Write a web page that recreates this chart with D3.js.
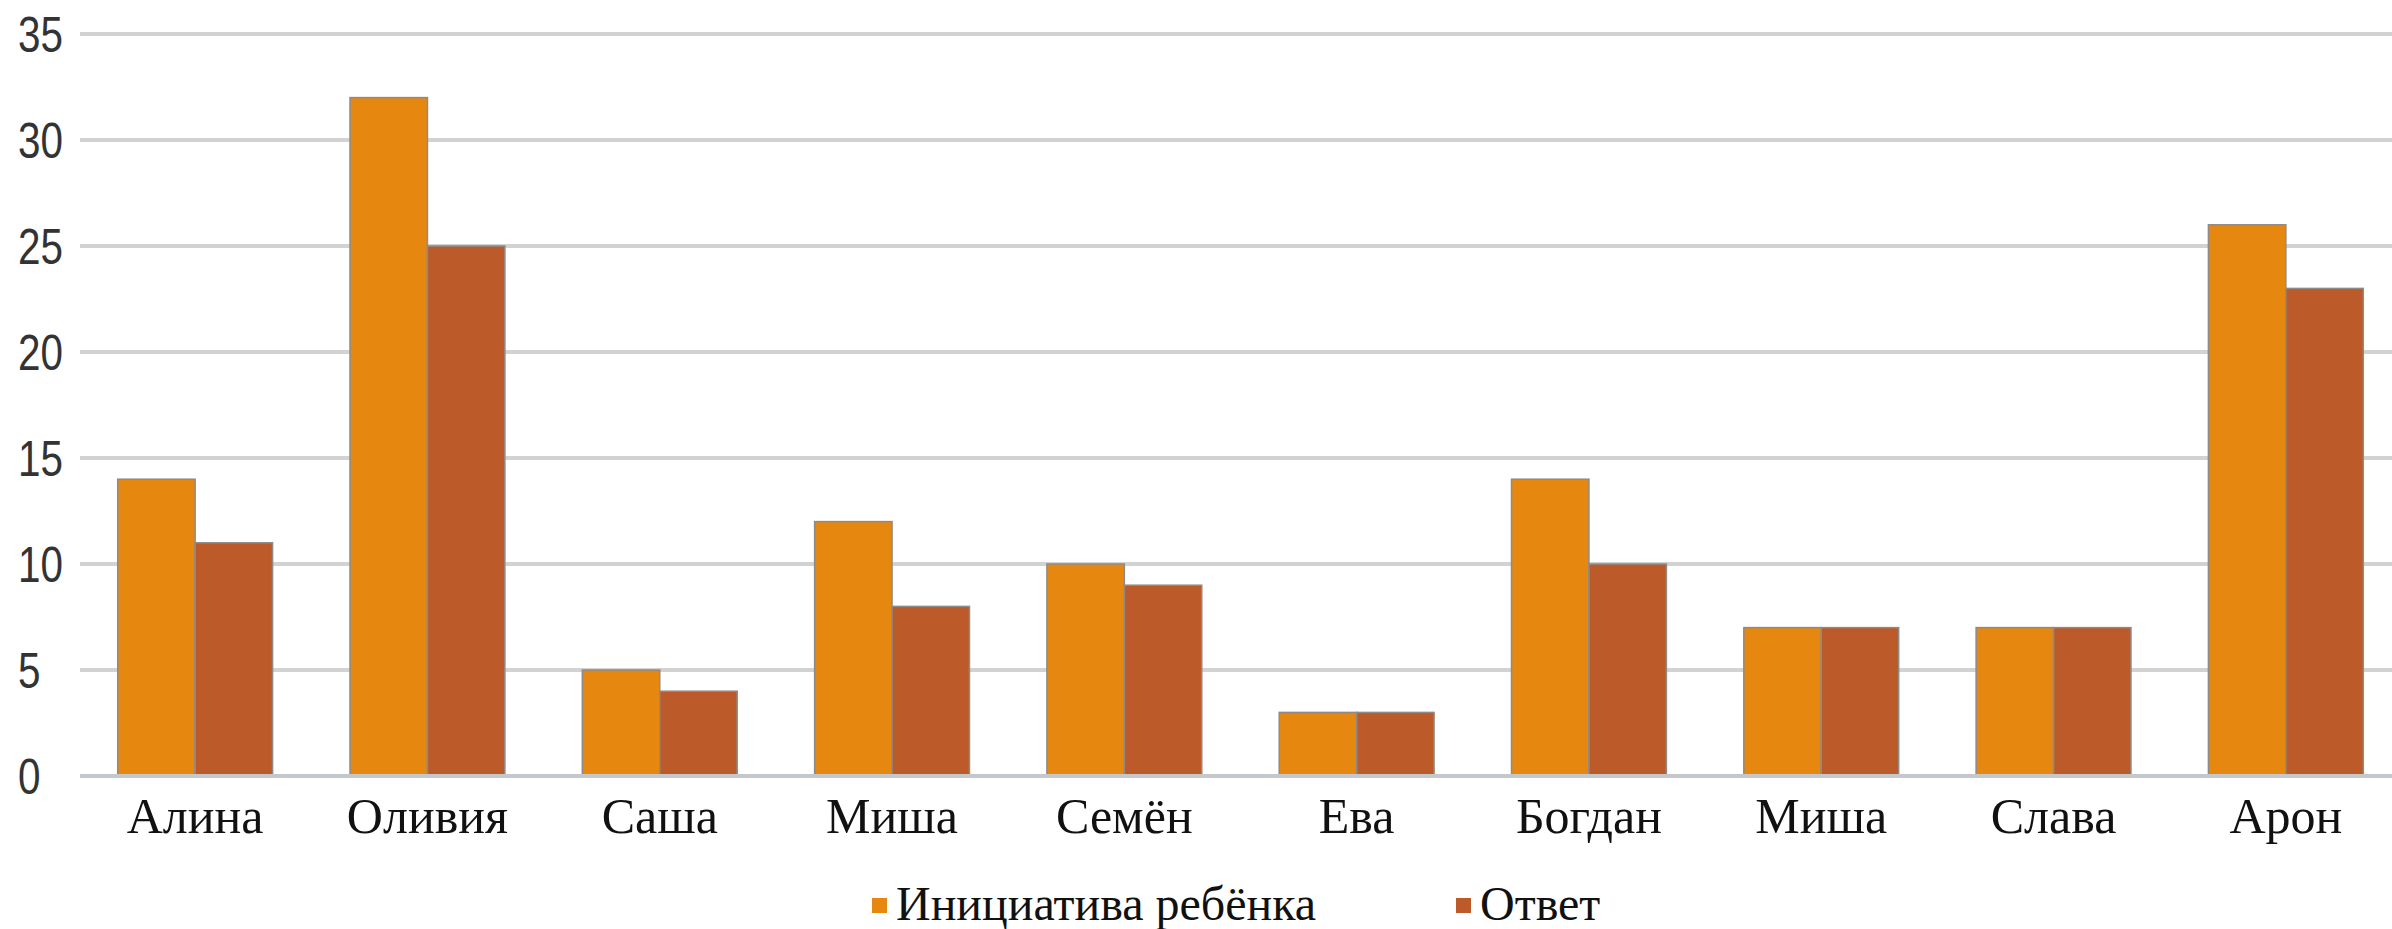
<!DOCTYPE html>
<html><head><meta charset="utf-8">
<script src="https://cdn.jsdelivr.net/npm/d3@7"></script>
<style>html,body{margin:0;padding:0;background:#fff;overflow:hidden}</style>
</head><body>
<svg id="chart" width="2392" height="929"></svg>
<script>
const categories = ["Алина","Оливия","Саша","Миша","Семён","Ева","Богдан","Миша","Слава","Арон"];
const seriesNames = ["Инициатива ребёнка","Ответ"];
const initiative = [14,32,5,12,10,3,14,7,7,26];
const answer = [11,25,4,8,9,3,10,7,7,23];
const yTicks = [0,5,10,15,20,25,30,35];
const colors = ["#E6870F","#BD5A29"];

const svg = d3.select("#chart");
const plotLeft = 79, plotRight = 2402, plotTop = 34, plotBottom = 776;

const rows = categories.map((c,i)=>({key:i, name:c, values:[initiative[i], answer[i]]}));

const x0 = d3.scaleBand().domain(d3.range(categories.length)).range([plotLeft,plotRight]).paddingInner(1/3).paddingOuter(1/6);
const x1 = d3.scaleBand().domain([0,1]).range([0,x0.bandwidth()]).padding(0);
const y = d3.scaleLinear().domain([0,35]).range([plotBottom,plotTop]);

// gridlines
svg.append("g").selectAll("line").data(yTicks.filter(t=>t>0)).join("line")
  .attr("x1",80).attr("x2",2392).attr("y1",d=>y(d)).attr("y2",d=>y(d))
  .attr("stroke","#d2d2d2").attr("stroke-width",4);

// y tick labels
svg.append("g").selectAll("text").data(yTicks).join("text")
  .attr("x",18).attr("y",d=>y(d)).attr("dy","0.36em")
  .attr("font-family","Liberation Sans, Arial, sans-serif").attr("font-size",50)
  .attr("fill","#333")
  .attr("textLength",d=>String(d).length*22.5).attr("lengthAdjust","spacingAndGlyphs")
  .text(d=>d);

// bars
const g = svg.append("g").selectAll("g").data(rows).join("g")
  .attr("transform",d=>`translate(${x0(d.key)},0)`);
g.selectAll("rect").data(d=>d.values.map((v,j)=>({j,v}))).join("rect")
  .attr("x",d=>x1(d.j)).attr("width",x1.bandwidth())
  .attr("y",d=>y(d.v)).attr("height",d=>y(0)-y(d.v))
  .attr("fill",d=>colors[d.j]).attr("stroke","#8f8a86").attr("stroke-width",1.5);

// baseline
svg.append("line").attr("x1",80).attr("x2",2392).attr("y1",y(0)).attr("y2",y(0))
  .attr("stroke","#c4c8cb").attr("stroke-width",4);

// category labels
svg.append("g").selectAll("text").data(rows).join("text")
  .attr("x",d=>x0(d.key)+x0.bandwidth()/2).attr("y",833)
  .attr("text-anchor","middle")
  .attr("font-family","Liberation Serif, Times New Roman, serif").attr("font-size",50)
  .attr("fill","#111")
  .text(d=>d.name);

// legend
const legendX = [872, 1456];
const lg = svg.append("g").selectAll("g").data(seriesNames).join("g")
  .attr("transform",(d,i)=>`translate(${legendX[i]},0)`);
lg.append("rect").attr("x",0).attr("y",898).attr("width",15).attr("height",15)
  .attr("fill",(d,i)=>colors[i]);
lg.append("text").attr("x",24).attr("y",920)
  .attr("font-family","Liberation Serif, Times New Roman, serif").attr("font-size",48)
  .attr("fill","#111").text(d=>d);
</script>
</body></html>
